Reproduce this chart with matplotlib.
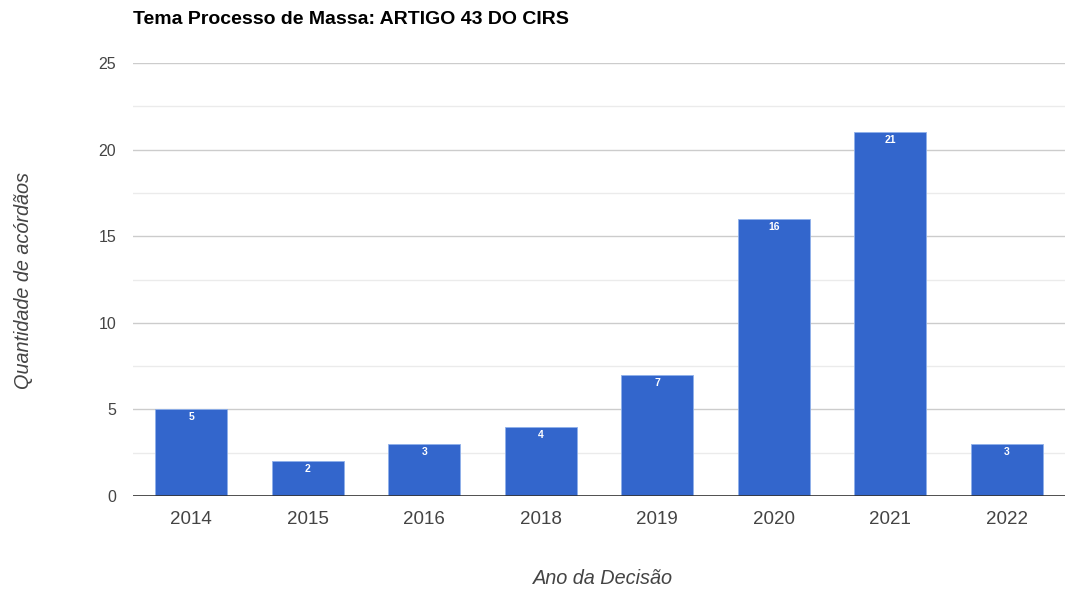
import matplotlib.pyplot as plt
import numpy as np

plt.rcParams['font.family'] = ['Liberation Sans', 'DejaVu Sans']

anos = ['2014', '2015', '2016', '2018', '2019', '2020', '2021', '2022']
quantidade = [5, 2, 3, 4, 7, 16, 21, 3]

fig = plt.figure(figsize=(10.65, 5.94), dpi=100)
ax = fig.add_axes([133 / 1065, 1 - 496 / 594, 932 / 1065, 433 / 594])

x = np.arange(len(anos))
bars = ax.bar(x, quantidade, width=0.62, color='#3366cc',
              edgecolor='#8fb0ea', linewidth=0.6, zorder=3)

for xi, v in zip(x, quantidade):
    ax.text(xi, v - 0.45, str(v), ha='center', va='center', color='white',
            fontsize=7.5, fontweight='bold', zorder=4)

ax.set_xlim(-0.5, len(anos) - 0.5)
ax.set_ylim(0, 25)
ax.set_yticks([0, 5, 10, 15, 20, 25])
ax.set_yticks(np.arange(2.5, 25, 5), minor=True)
ax.grid(axis='y', which='major', color='#cccccc', linewidth=1, zorder=0)
ax.grid(axis='y', which='minor', color='#ebebeb', linewidth=1, zorder=0)
ax.axhline(0, color='#333333', linewidth=1.2, zorder=5)

ax.set_xticks(x)
ax.set_xticklabels(anos)
ax.tick_params(axis='x', length=0, labelsize=13.5, colors='#444444', pad=11)
ax.tick_params(axis='y', which='both', length=0, labelsize=11.5,
               colors='#444444', pad=12)

for s in ax.spines.values():
    s.set_visible(False)

fig.text(133 / 1065, 1 - 19 / 594, 'Tema Processo de Massa: ARTIGO 43 DO CIRS',
         fontsize=14, fontweight='bold', color='#000000', va='center', ha='left')
fig.text(603 / 1065, 1 - 579 / 594, 'Ano da Decisão', fontsize=14.3,
         style='italic', color='#444444', ha='center', va='center')
fig.text(24 / 1065, 1 - 280 / 594, 'Quantidade de acórdãos', fontsize=14.3,
         style='italic', color='#444444', ha='center', va='center', rotation=90)

fig.savefig('out.png', dpi=100)
